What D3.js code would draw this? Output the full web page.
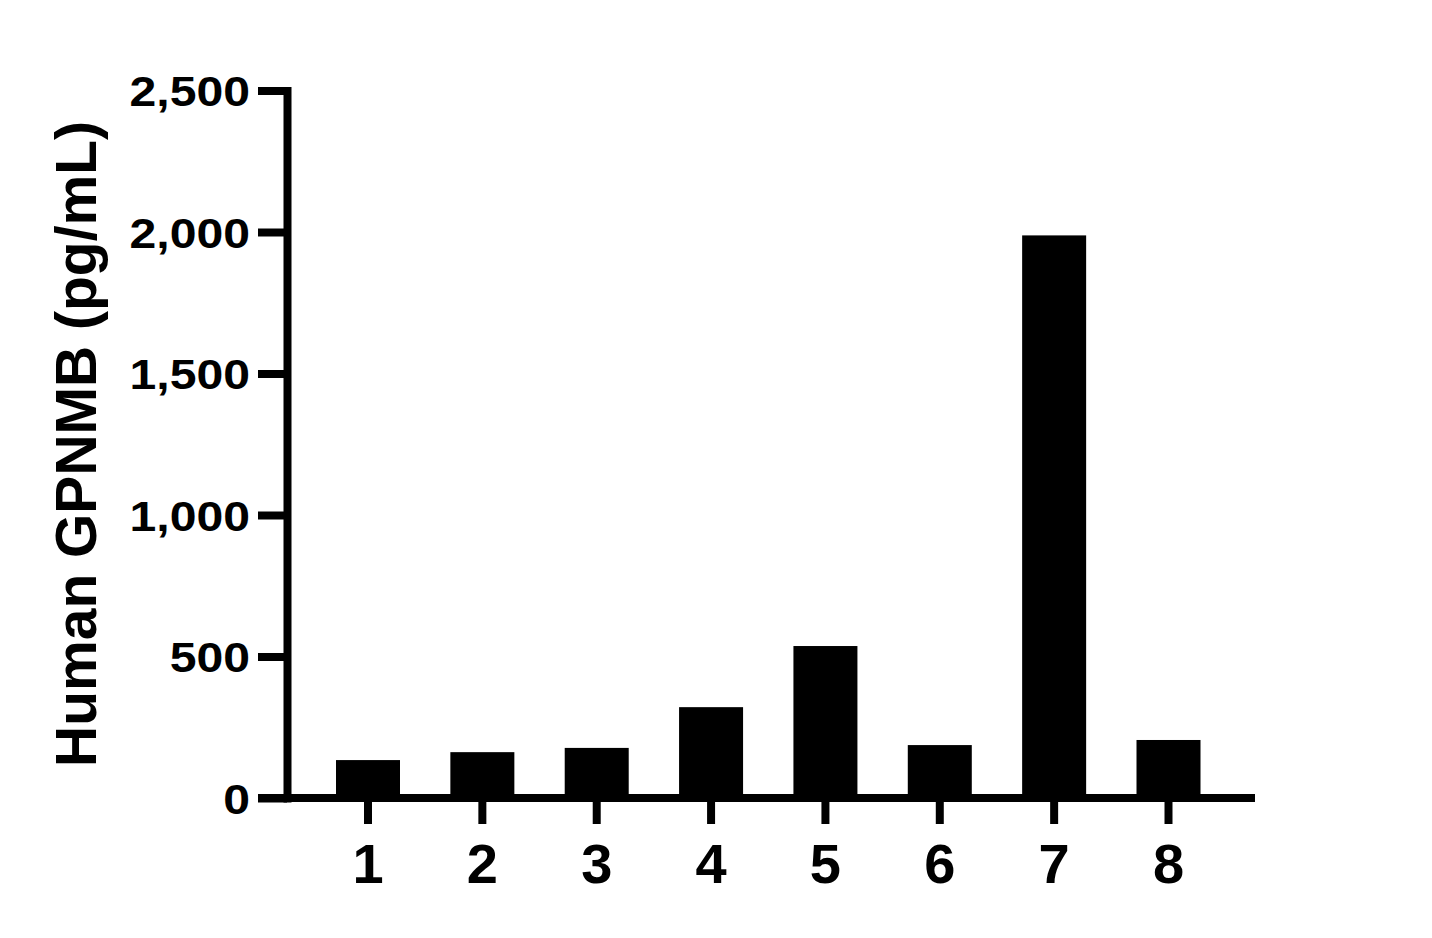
<!DOCTYPE html>
<html>
<head>
<meta charset="utf-8">
<script src="https://cdn.jsdelivr.net/npm/d3@7"></script>
<style>
  html, body { margin: 0; padding: 0; background: #fff; }
  svg { display: block; }
  text { font-family: "Liberation Sans", Arial, Helvetica, sans-serif; font-weight: bold; fill: #000; }
</style>
</head>
<body>
<svg id="chart" width="1432" height="938"></svg>
<script>
const categories = ["1", "2", "3", "4", "5", "6", "7", "8"];
const values = [134, 162, 177, 321, 537, 187, 1988, 205];
const yTicks = [0, 500, 1000, 1500, 2000, 2500];
const yTitle = "Human GPNMB (pg/mL)";

const svg = d3.select("#chart");
const axisX = 287;          // y-axis position
const yScale = d3.scaleLinear().domain([0, 2500]).range([798, 90.5]);
const step = (1168.5 - 368) / 7;
const xScale = d3.scaleBand()
  .domain(categories)
  .range([368 - step / 2, 1168.5 + step / 2])
  .paddingInner(1 - 64 / step)
  .paddingOuter((1 - 64 / step) / 2);

const lw = 8;
const tickLen = 29;

// Bars
svg.append("g").selectAll("rect")
  .data(values)
  .join("rect")
  .attr("x", (d, i) => xScale(categories[i]))
  .attr("width", xScale.bandwidth())
  .attr("y", d => yScale(d))
  .attr("height", d => yScale(0) - yScale(d))
  .attr("fill", "#000");

// Y axis
const gy = svg.append("g")
  .attr("transform", `translate(${axisX},0)`)
  .call(d3.axisLeft(yScale).tickValues(yTicks).tickSize(tickLen).tickSizeOuter(0).tickFormat(d3.format(",")));
gy.select(".domain").attr("stroke", "#000").attr("stroke-width", lw).attr("stroke-linecap", "square");
gy.selectAll(".tick line").attr("stroke", "#000").attr("stroke-width", lw);
gy.selectAll(".tick text")
  .attr("x", null).attr("dy", null)
  .attr("transform", `translate(${-tickLen - 8},15) scale(1.12,1)`)
  .attr("text-anchor", "end")
  .style("font-size", "43px")
  .style("font-family", '"Liberation Sans", Arial, sans-serif')
  .style("font-weight", "bold");

// X axis baseline
svg.append("line")
  .attr("x1", axisX - tickLen).attr("x2", 1255)
  .attr("y1", yScale(0)).attr("y2", yScale(0))
  .attr("stroke", "#000").attr("stroke-width", lw);

// X ticks & labels
const gx = svg.append("g")
  .attr("transform", `translate(0,${yScale(0)})`)
  .call(d3.axisBottom(xScale).tickSize(26).tickSizeOuter(0));
gx.select(".domain").remove();
gx.selectAll(".tick line").attr("stroke", "#000").attr("stroke-width", lw);
gx.selectAll(".tick text")
  .attr("y", 85).attr("dy", null)
  .style("font-size", "56px")
  .style("font-family", '"Liberation Sans", Arial, sans-serif')
  .style("font-weight", "bold");

// Y title
svg.append("text")
  .attr("transform", "translate(96,444) rotate(-90)")
  .attr("text-anchor", "middle")
  .style("font-size", "57px")
  .text(yTitle);
</script>
</body>
</html>
